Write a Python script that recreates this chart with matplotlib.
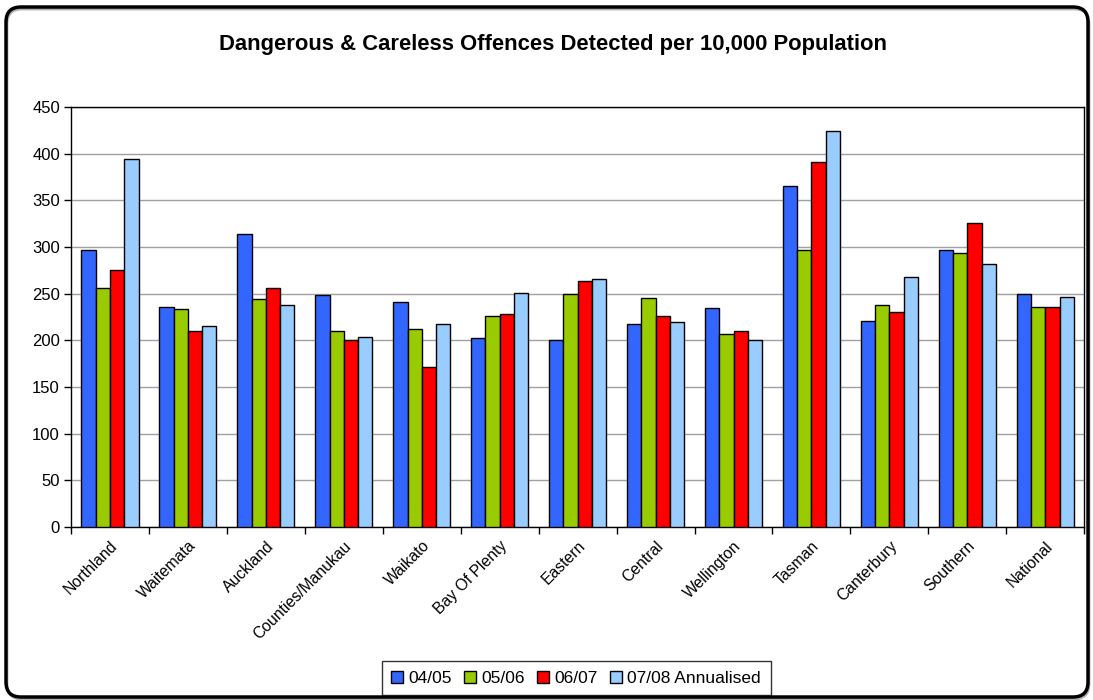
import numpy as np
import matplotlib.pyplot as plt
from matplotlib.patches import FancyBboxPatch

plt.rcParams['font.family'] = ['Liberation Sans', 'DejaVu Sans']

#data
districts = ["Northland", "Waitemata", "Auckland", "Counties/Manukau", "Waikato",
             "Bay Of Plenty", "Eastern", "Central", "Wellington", "Tasman",
             "Canterbury", "Southern", "National"]
y0405 = [297, 236, 314, 249, 241, 203, 200, 218, 235, 366, 221, 297, 250]
y0506 = [256, 234, 244, 210, 212, 226, 250, 246, 207, 297, 238, 294, 236]
y0607 = [276, 210, 256, 201, 172, 228, 264, 226, 210, 391, 230, 326, 236]
y0708 = [394, 215, 238, 204, 218, 251, 266, 220, 201, 424, 268, 282, 247]
series = ["04/05", "05/06", "06/07", "07/08 Annualised"]
colors = ["#3366FF", "#99CC00", "#FF0000", "#99CCFF"]

fig = plt.figure(figsize=(10.93, 7.0), dpi=100)
ax = fig.add_axes([0.065, 0.247, 0.927, 0.6])

#bars
x = np.arange(len(districts))
w = 0.183
for k, (vals, name, c) in enumerate(zip([y0405, y0506, y0607, y0708], series, colors)):
    ax.bar(x + (k - 1.5) * w, vals, w, color=c, edgecolor="black", linewidth=1,
           label=name, zorder=3)

#axes
ax.set_xlim(-0.5, len(districts) - 0.5)
ax.set_ylim(0, 450)
ax.set_yticks(np.arange(0, 451, 50))
ax.yaxis.grid(True, color="#a0a0a0", linewidth=1, zorder=0)
ax.tick_params(axis="y", labelsize=12, direction="out", length=5, width=1, pad=3)
ax.set_xticks(np.arange(len(districts) + 1) - 0.5)
ax.set_xticklabels([])
ax.set_xticks(x, minor=True)
ax.set_xticklabels(districts, minor=True, rotation=45, ha="right",
                   rotation_mode="anchor", fontsize=11.3)
ax.tick_params(axis="x", which="major", direction="out", length=5, width=1)
ax.tick_params(axis="x", which="minor", length=0, pad=8)
for s in ax.spines.values():
    s.set_linewidth(1)
    s.set_color("black")

fig.suptitle("Dangerous & Careless Offences Detected per 10,000 Population",
             x=0.506, y=0.952, fontsize=15.8, fontweight="bold")

leg = fig.legend(loc="center", bbox_to_anchor=(0.527, 0.031), ncol=4, fontsize=12.5,
                 frameon=True, fancybox=False, edgecolor="black", handlelength=0.7,
                 handleheight=0.7, handletextpad=0.3, columnspacing=0.7,
                 borderpad=0.55, borderaxespad=0)
leg.get_frame().set_linewidth(1)

#rounded outer border with a soft shadow line underneath
shadow = FancyBboxPatch((0.07, 0.01), 10.82, 6.9, boxstyle="round,pad=0,rounding_size=0.15",
                        transform=fig.dpi_scale_trans, fill=False, edgecolor="#b0b0b0",
                        linewidth=2)
border = FancyBboxPatch((0.06, 0.03), 10.82, 6.9, boxstyle="round,pad=0,rounding_size=0.15",
                        transform=fig.dpi_scale_trans, fill=False, edgecolor="black",
                        linewidth=2.5)
fig.patches.extend([shadow, border])

fig.savefig("out.png", dpi=100)
